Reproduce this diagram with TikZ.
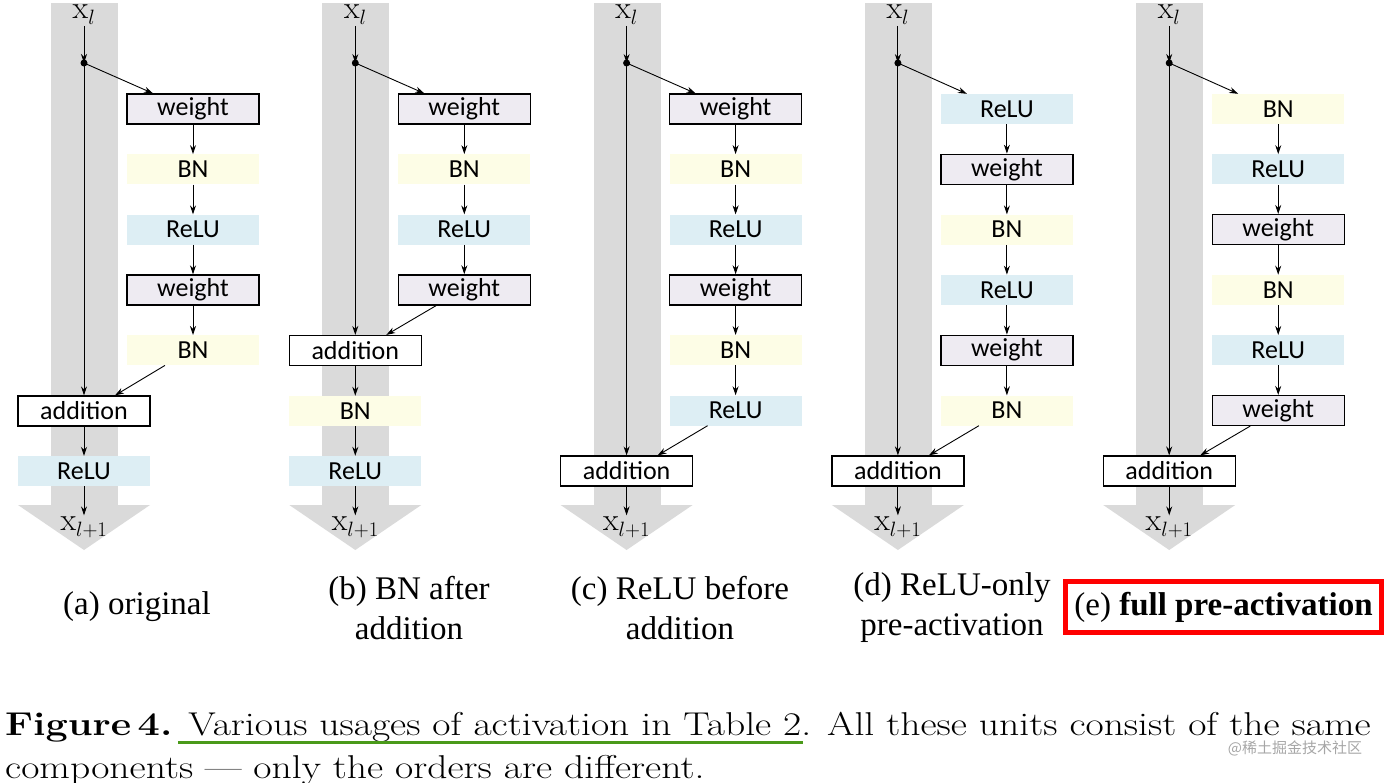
\documentclass[tikz,border=0pt]{standalone}
\usepackage{fontspec}
\setsansfont{Carlito}
\newfontfamily\capserif{Liberation Serif}
\newfontfamily\cjkfont{Noto Sans CJK SC}
\usetikzlibrary{arrows.meta}
\definecolor{wfill}{HTML}{EEEBF2}
\definecolor{bnfill}{HTML}{FDFDE6}
\definecolor{refill}{HTML}{DDEEF4}
\definecolor{band}{HTML}{DADADA}
\definecolor{ulgreen}{HTML}{4A9A1A}
\newcommand\rightcol[2]{%
  \foreach \t/\s [count=\i] in {#2} {
    \node[\s] (#1r\i) at (193,{109+60.3*(\i-1)}) {\t};
    \ifnum\i>1 \pgfmathtruncatemacro\j{\i-1}\draw[arr] (#1r\j)--(#1r\i);\fi
  }}
\newcommand\topstem[1]{%
  \fill[band] (51,3) rectangle (118,505);
  \fill[band] (18,505) -- (150,505) -- (84,550) -- cycle;
  \node[xl] (#1x) at (84,15) {$\mathrm{x}_l$};
  \fill (84,63) circle (3.5pt);
  \coordinate (#1d) at (84,63);
  \draw[arr] (#1x) -- (#1d);}
\begin{document}
\begin{tikzpicture}[x=1pt,y=-1pt,
  box/.style={minimum width=132pt, minimum height=30pt, inner sep=0pt, font=\sffamily\fontsize{26}{28}\selectfont},
  w/.style={box, draw=black, line width=1.2pt, fill=wfill},
  bn/.style={box, fill=bnfill},
  re/.style={box, fill=refill},
  ad/.style={box, draw=black, line width=1.2pt, fill=white},
  xl/.style={font=\fontsize{32}{34}\selectfont, inner sep=1pt},
  arr/.style={-{Stealth[length=9pt,width=6pt]}, line width=0.9pt},
  subcap/.style={font=\capserif\fontsize{33}{40}\selectfont, align=center}]
\useasboundingbox (0,0) rectangle (1388,782);

% (a)
\begin{scope}
\topstem{a}
\rightcol{a}{weight/w,BN/bn,ReLU/re,weight/w,BN/bn}
\draw[arr] (ad) -- ([xshift=-40pt]ar1.north);
\node[ad] (aA) at (84,411) {addition};
\node[re] (aR) at (84,471) {ReLU};
\node[xl] (aE) at (84,527) {$\mathrm{x}_{l+1}$};
\draw[arr] (ad) -- (aA);
\draw[arr] ([xshift=-28pt]ar5.south) -- ([xshift=31pt]aA.north);
\draw[arr] (aA) -- (aR);
\draw[arr] (aR) -- (aE);
\end{scope}

% (b)
\begin{scope}[shift={(271.3,0)}]
\topstem{b}
\rightcol{b}{weight/w,BN/bn,ReLU/re,weight/w}
\draw[arr] (bd) -- ([xshift=-40pt]br1.north);
\node[ad] (bA) at (84,350.5) {addition};
\node[bn] (bB) at (84,411) {BN};
\node[re] (bR) at (84,471) {ReLU};
\node[xl] (bE) at (84,527) {$\mathrm{x}_{l+1}$};
\draw[arr] (bd) -- (bA);
\draw[arr] ([xshift=-28pt]br4.south) -- ([xshift=31pt]bA.north);
\draw[arr] (bA) -- (bB);
\draw[arr] (bB) -- (bR);
\draw[arr] (bR) -- (bE);
\end{scope}

% (c)
\begin{scope}[shift={(542.6,0)}]
\topstem{c}
\rightcol{c}{weight/w,BN/bn,ReLU/re,weight/w,BN/bn,ReLU/re}
\draw[arr] (cd) -- ([xshift=-40pt]cr1.north);
\node[ad] (cA) at (84,471) {addition};
\node[xl] (cE) at (84,527) {$\mathrm{x}_{l+1}$};
\draw[arr] (cd) -- (cA);
\draw[arr] ([xshift=-28pt]cr6.south) -- ([xshift=31pt]cA.north);
\draw[arr] (cA) -- (cE);
\end{scope}

% (d)
\begin{scope}[shift={(813.9,0)}]
\topstem{d}
\rightcol{d}{ReLU/re,weight/w,BN/bn,ReLU/re,weight/w,BN/bn}
\draw[arr] (dd) -- ([xshift=-40pt]dr1.north);
\node[ad] (dA) at (84,471) {addition};
\node[xl] (dE) at (84,527) {$\mathrm{x}_{l+1}$};
\draw[arr] (dd) -- (dA);
\draw[arr] ([xshift=-28pt]dr6.south) -- ([xshift=31pt]dA.north);
\draw[arr] (dA) -- (dE);
\end{scope}

% (e)
\begin{scope}[shift={(1085.2,0)}]
\topstem{e}
\rightcol{e}{BN/bn,ReLU/re,weight/w,BN/bn,ReLU/re,weight/w}
\draw[arr] (ed) -- ([xshift=-40pt]er1.north);
\node[ad] (eA) at (84,471) {addition};
\node[xl] (eE) at (84,527) {$\mathrm{x}_{l+1}$};
\draw[arr] (ed) -- (eA);
\draw[arr] ([xshift=-28pt]er6.south) -- ([xshift=31pt]eA.north);
\draw[arr] (eA) -- (eE);
\end{scope}

% sub-captions
\node[subcap] (ca) at (137,607) {(a) original};
\node[subcap] (cb) at (409,608) {(b) BN after\\addition};
\node[subcap] (cc) at (680,608) {(c) ReLU before\\addition};
\node[subcap] (cd2) at (952,608) {(d) ReLU-only\\pre-activation};
\node[subcap, draw=red, line width=4.5pt, minimum width=316pt, minimum height=51pt, inner sep=0pt] (ce) at (1223.5,607) {(e) \textbf{full pre-activation}};

% figure caption
\node[anchor=base west, inner sep=0pt, font=\fontsize{33}{36}\selectfont] (f1) at (5,735)
  {\scalebox{1.2}[1]{\textbf{Figure\,4.} Various usages of activation in Table 2. All these units consist of the same}};
\node[anchor=base west, inner sep=0pt, font=\fontsize{33}{36}\selectfont] (f2) at (5,778)
  {\scalebox{1.2}[1]{components --- only the orders are different.}};
\draw[ulgreen, line width=3pt] (178,742) -- (803,742);
\node[anchor=center, text=gray!70, font=\cjkfont\fontsize{15}{17}\selectfont] (wm) at (1295,748) {@稀土掘金技术社区};
\end{tikzpicture}
\end{document}
